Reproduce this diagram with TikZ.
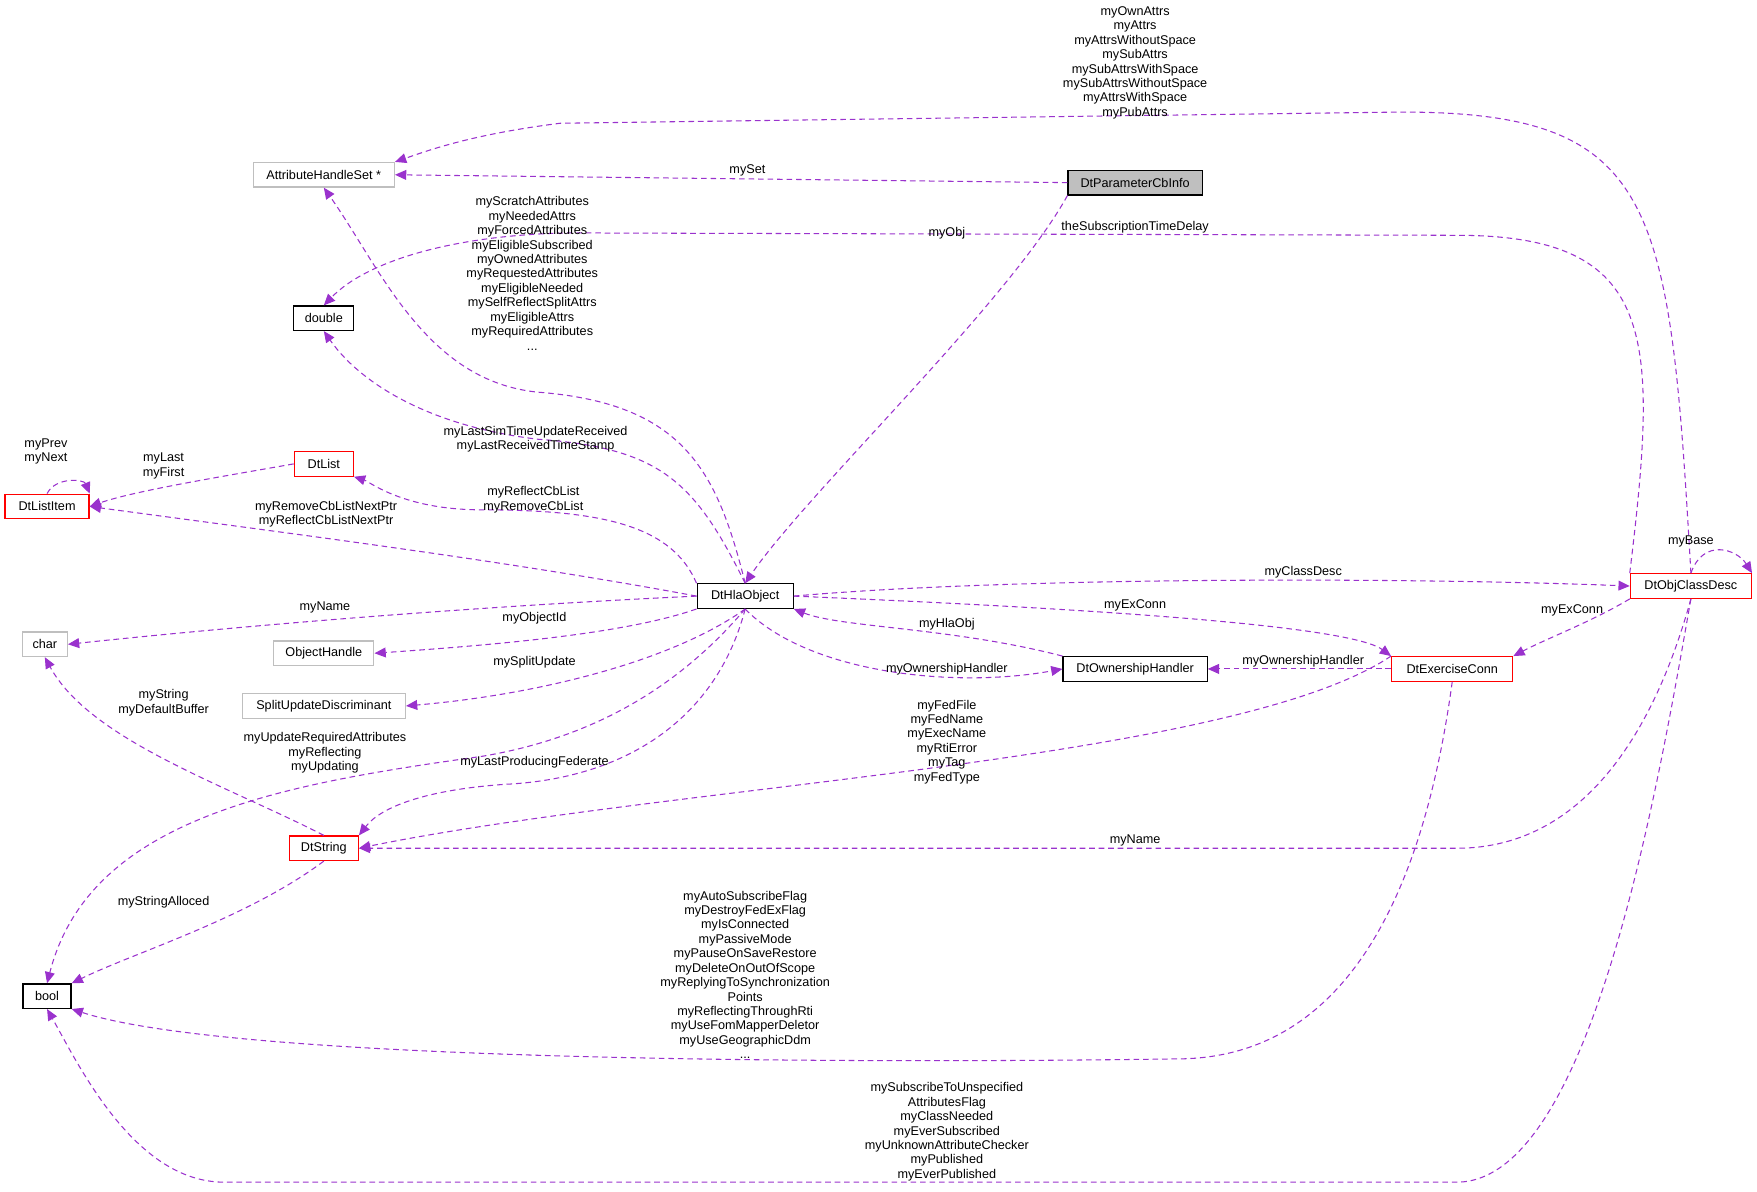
\documentclass[tikz,border=0pt]{standalone}
\usepackage{fontspec}
\setmainfont{Liberation Sans}
\usetikzlibrary{arrows.meta}
\definecolor{edgec}{HTML}{9A32CD}
\definecolor{boxgray}{HTML}{BFBFBF}
\tikzset{
  cls/.style={draw=black,line width=0.35pt,fill=white,inner sep=0pt,minimum height=0.245cm,font=\fontsize{3.6}{4.2}\selectfont},
  redcls/.style={cls,draw=red},
  graycls/.style={cls,draw=boxgray},
  dep/.style={draw=edgec,dashed,dash pattern=on 1.6pt off 1.1pt,line width=0.3pt,-{Triangle[length=3.2pt,width=2.8pt]}},
  lbl/.style={align=center,inner sep=0pt,font=\fontsize{3.6}{4.1}\selectfont}
}
\begin{document}
\begin{tikzpicture}[x=0.011205cm,y=-0.011205cm]
        \useasboundingbox (0,0) rectangle (1568,1063);
        % classes
        \node[graycls,minimum width=1.41cm] (ahs) at (289,156) {AttributeHandleSet *};
        \node[cls,fill=boxgray,minimum width=1.34cm] (pcb) at (1013,163) {DtParameterCbInfo};
        \node[cls,minimum width=0.6cm] (dbl) at (289,284) {double};
        \node[redcls,minimum width=0.59cm] (lst) at (289,414) {DtList};
        \node[redcls,minimum width=0.84cm] (lit) at (42,452) {DtListItem};
        \node[graycls,minimum width=0.45cm] (chr) at (40,575) {char};
        \node[graycls,minimum width=1.0cm] (oh) at (289,583) {ObjectHandle};
        \node[graycls,minimum width=1.63cm] (sud) at (289,630) {SplitUpdateDiscriminant};
        \node[cls,minimum width=0.96cm] (hla) at (665,532) {DtHlaObject};
        \node[cls,minimum width=1.44cm] (own) at (1013,597) {DtOwnershipHandler};
        \node[redcls,minimum width=1.21cm] (exc) at (1296,597) {DtExerciseConn};
        \node[redcls,minimum width=1.21cm] (ocd) at (1509,523) {DtObjClassDesc};
        \node[redcls,minimum width=0.69cm] (str) at (289,757) {DtString};
        \node[cls,minimum width=0.48cm] (bool) at (42,889) {bool};

        % edges
        \draw[dep] (ocd.north) .. controls (1490,180) and (1480,100) .. (1250,100) -- (500,110) .. controls (420,120) and (380,135) .. (ahs.north east);
        \draw[dep] (pcb.west) -- (ahs.east);
        \draw[dep] (pcb.south west) .. controls (900,270) and (720,440) .. (hla.north);
        \draw[dep] (ocd.north west) .. controls (1480,300) and (1480,210) .. (1300,210) -- (540,208) .. controls (420,205) and (330,230) .. (dbl.north);
        \draw[dep] (hla.north) .. controls (620,430) and (590,400) .. (480,392) .. controls (380,380) and (320,340) .. (dbl.south);
        \draw[dep] (hla.north) .. controls (640,420) and (610,360) .. (480,350) .. controls (380,340) and (340,240) .. (ahs.south);
        \draw[dep] (hla.north west) .. controls (600,470) and (540,455) .. (430,455) .. controls (360,455) and (330,430) .. (lst.south east);
        \draw[dep] (lst.west) .. controls (200,425) and (120,438) .. (lit.east);
        \draw[dep] (lit.north) .. controls (50,425) and (75,428) .. (lit.north east);
        \draw[dep] (hla.west) .. controls (450,500) and (250,475) .. (lit.east);
        \draw[dep] (hla.west) .. controls (450,540) and (250,555) .. (chr.east);
        \draw[dep] (hla.south west) .. controls (560,565) and (450,575) .. (oh.east);
        \draw[dep] (hla.south) .. controls (600,590) and (480,620) .. (sud.east);
        \draw[dep] (hla.south) .. controls (600,620) and (520,660) .. (430,675) .. controls (250,700) and (80,730) .. (bool.north);
        \draw[dep] (hla.south) .. controls (640,640) and (560,695) .. (450,700) .. controls (380,705) and (340,720) .. (str.north east);
        \draw[dep] (str.north) .. controls (200,700) and (80,660) .. (chr.south);
        \draw[dep] (str.south) .. controls (220,820) and (120,850) .. (bool.north east);
        \draw[dep] (hla.east) .. controls (900,515) and (1250,515) .. (ocd.west);
        \draw[dep] (hla.east) .. controls (900,540) and (1200,555) .. (exc.north west);
        \draw[dep] (own.north west) .. controls (850,560) and (750,560) .. (hla.south east);
        \draw[dep] (hla.south) .. controls (720,600) and (850,615) .. (own.west);
        \draw[dep] (exc.west) -- (own.east);
        \draw[dep] (ocd.south west) .. controls (1420,555) and (1380,570) .. (exc.north east);
        \draw[dep] (ocd.north) .. controls (1520,480) and (1550,490) .. (ocd.north east);
        \draw[dep] (exc.north west) .. controls (1100,680) and (600,700) .. (str.east);
        \draw[dep] (ocd.south) .. controls (1480,640) and (1420,757) .. (1300,757) -- (str.east);
        \draw[dep] (exc.south) .. controls (1270,800) and (1200,945) .. (1050,945) .. controls (700,950) and (200,945) .. (bool.south east);
        \draw[dep] (ocd.south) .. controls (1480,700) and (1420,1055) .. (1300,1055) -- (200,1055) .. controls (120,1055) and (70,950) .. (bool.south);

        % labels
        \node[lbl] (l1) at (1013,56) {myOwnAttrs\\myAttrs\\myAttrsWithoutSpace\\mySubAttrs\\mySubAttrsWithSpace\\mySubAttrsWithoutSpace\\myAttrsWithSpace\\myPubAttrs};
        \node[lbl] (l2) at (667,152) {mySet};
        \node[lbl] (l3) at (845,208) {myObj};
        \node[lbl] (l4) at (1013,203) {theSubscriptionTimeDelay};
        \node[lbl] (l5) at (475,244) {myScratchAttributes\\myNeededAttrs\\myForcedAttributes\\myEligibleSubscribed\\myOwnedAttributes\\myRequestedAttributes\\myEligibleNeeded\\mySelfReflectSplitAttrs\\myEligibleAttrs\\myRequiredAttributes\\...};
        \node[lbl] (l6) at (478,392) {myLastSimTimeUpdateReceived\\myLastReceivedTimeStamp};
        \node[lbl] (l7) at (476,446) {myReflectCbList\\myRemoveCbList};
        \node[lbl] (l8) at (146,416) {myLast\\myFirst};
        \node[lbl] (l9) at (41,403) {myPrev\\myNext};
        \node[lbl] (l10) at (291,459) {myRemoveCbListNextPtr\\myReflectCbListNextPtr};
        \node[lbl] (l11) at (290,542) {myName};
        \node[lbl] (l12) at (477,552) {myObjectId};
        \node[lbl] (l13) at (477,591) {mySplitUpdate};
        \node[lbl] (l14) at (290,672) {myUpdateRequiredAttributes\\myReflecting\\myUpdating};
        \node[lbl] (l15) at (477,680) {myLastProducingFederate};
        \node[lbl] (l16) at (146,627) {myString\\myDefaultBuffer};
        \node[lbl] (l17) at (146,805) {myStringAlloced};
        \node[lbl] (l18) at (1163,511) {myClassDesc};
        \node[lbl] (l19) at (1013,540) {myExConn};
        \node[lbl] (l20) at (845,557) {myHlaObj};
        \node[lbl] (l21) at (845,597) {myOwnershipHandler};
        \node[lbl] (l22) at (1163,590) {myOwnershipHandler};
        \node[lbl] (l23) at (1403,545) {myExConn};
        \node[lbl] (l24) at (1509,483) {myBase};
        \node[lbl] (l25) at (845,662) {myFedFile\\myFedName\\myExecName\\myRtiError\\myTag\\myFedType};
        \node[lbl] (l26) at (1013,750) {myName};
        \node[lbl] (l27) at (665,870) {myAutoSubscribeFlag\\myDestroyFedExFlag\\myIsConnected\\myPassiveMode\\myPauseOnSaveRestore\\myDeleteOnOutOfScope\\myReplyingToSynchronization\\Points\\myReflectingThroughRti\\myUseFomMapperDeletor\\myUseGeographicDdm\\...};
        \node[lbl] (l28) at (845,1010) {mySubscribeToUnspecified\\AttributesFlag\\myClassNeeded\\myEverSubscribed\\myUnknownAttributeChecker\\myPublished\\myEverPublished};
\end{tikzpicture}
\end{document}
